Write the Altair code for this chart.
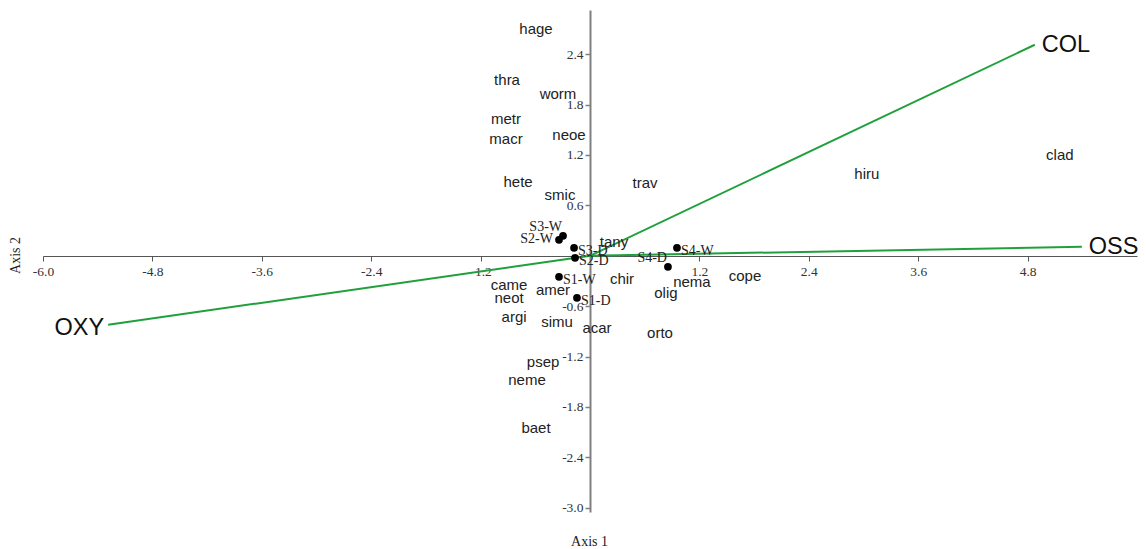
import altair as alt
import pandas as pd

# ---- data ----
site_names = ["S1-W", "S1-D", "S2-W", "S2-D", "S3-W", "S3-D", "S4-W", "S4-D"]
site_ax1 = [-0.340, -0.143, -0.340, -0.164, -0.296, -0.175, 0.954, 0.855]
site_ax2 = [-0.250, -0.500, 0.190, -0.024, 0.238, 0.095, 0.095, -0.131]

taxa_names = ["hage", "thra", "worm", "metr", "macr", "neoe", "hete", "smic", "trav",
              "hiru", "clad", "tany", "chir", "nema", "olig", "cope", "came", "neot",
              "amer", "argi", "simu", "acar", "orto", "psep", "neme", "baet"]
taxa_ax1 = [-0.592, -0.910, -0.351, -0.921, -0.921, -0.230, -0.789, -0.329, 0.603,
            3.037, 5.154, 0.263, 0.351, 1.118, 0.833, 1.700, -0.888, -0.888,
            -0.406, -0.833, -0.362, 0.077, 0.768, -0.515, -0.691, -0.592]
taxa_ax2 = [2.702, 2.095, 1.929, 1.631, 1.393, 1.440, 0.881, 0.726, 0.869,
            0.976, 1.202, 0.167, -0.274, -0.310, -0.440, -0.238, -0.345, -0.500,
            -0.405, -0.726, -0.786, -0.857, -0.917, -1.262, -1.476, -2.048]

env_names = ["COL", "OSS", "OXY"]
env_ax1 = [4.879, 5.395, -5.285]
env_ax2 = [2.512, 0.107, -0.821]

x_ticks = [-6.0, -4.8, -3.6, -2.4, -1.2, 1.2, 2.4, 3.6, 4.8]
y_ticks = [2.4, 1.8, 1.2, 0.6, -0.6, -1.2, -1.8, -2.4, -3.0]

sites = pd.DataFrame({"name": site_names, "ax1": site_ax1, "ax2": site_ax2})
taxa = pd.DataFrame({"name": taxa_names, "ax1": taxa_ax1, "ax2": taxa_ax2})
env = pd.DataFrame({"name": env_names, "ax1": env_ax1, "ax2": env_ax2,
                    "o1": [0.0] * len(env_names), "o2": [0.0] * len(env_names)})

GREEN = "#1fa03c"
SERIF = "Liberation Serif"
SANS = "Liberation Sans"
LABEL_EXPR = "(datum.value < 0 ? '-' : '') + format(abs(datum.value), '.1f')"

xs = alt.Scale(domain=[-6.0, 6.0], nice=False, zero=False)
ys = alt.Scale(domain=[-3.05, 2.926], nice=False, zero=False)

x_axis = alt.Axis(values=x_ticks, labelExpr=LABEL_EXPR, orient="bottom", offset=-256, grid=False,
                  domainColor="#555555", domainWidth=1.2, tickColor="#555555", tickSize=5,
                  labelFont=SERIF, labelFontSize=13.5, labelColor="#333333", labelPadding=3,
                  labelFlush=False, labelOverlap=False,
                  title="Axis 1", titleFont=SERIF, titleFontSize=14, titleFontWeight="normal",
                  titleColor="#222222", titleX=546, titleY=285, titleAlign="center",
                  titleBaseline="middle")
y_axis = alt.Axis(values=y_ticks, labelExpr=LABEL_EXPR, orient="left", offset=-547, grid=False,
                  domainColor="#808080", domainWidth=2, tickColor="#808080", tickWidth=1.5,
                  tickSize=5, labelFont=SERIF, labelFontSize=13.5, labelColor="#333333",
                  labelPadding=2, labelFlush=False, labelOverlap=False,
                  title="Axis 2", titleFont=SERIF, titleFontSize=14, titleFontWeight="normal",
                  titleColor="#222222", titleX=-575, titleY=245, titleAngle=-90,
                  titleAlign="center", titleBaseline="middle")

X = alt.X("ax1:Q", scale=xs, axis=x_axis)
Y = alt.Y("ax2:Q", scale=ys, axis=y_axis)

rules = alt.Chart(env).mark_rule(color=GREEN, strokeWidth=2).encode(
    x=X, y=Y, x2="o1:Q", y2="o2:Q")

env_right = alt.Chart(env).transform_filter(
    alt.FieldOneOfPredicate(field="name", oneOf=["COL", "OSS"])
).mark_text(font=SANS, fontSize=23.5, color="#111111", align="left", baseline="middle", dx=7).encode(
    x=X, y=Y, text="name:N")
env_left = alt.Chart(env).transform_filter(
    alt.FieldOneOfPredicate(field="name", oneOf=["OXY"])
).mark_text(font=SANS, fontSize=23.5, color="#111111", align="right", baseline="middle", dx=-4, dy=3).encode(
    x=X, y=Y, text="name:N")

taxa_text = alt.Chart(taxa).mark_text(font=SANS, fontSize=15, color="#222222",
                                      align="center", baseline="middle").encode(
    x=X, y=Y, text="name:N")

dots = alt.Chart(sites).mark_circle(size=60, color="black", opacity=1).encode(x=X, y=Y)

site_r = alt.Chart(sites).transform_filter(
    alt.FieldOneOfPredicate(field="name", oneOf=["S1-W", "S1-D", "S2-D", "S3-D", "S4-W"])
).mark_text(font=SERIF, fontSize=14, color="#222222", align="left", baseline="middle",
            dx=4, dy=3).encode(x=X, y=Y, text="name:N")
site_lu = alt.Chart(sites).transform_filter(
    alt.FieldOneOfPredicate(field="name", oneOf=["S3-W", "S4-D"])
).mark_text(font=SERIF, fontSize=14, color="#222222", align="right", baseline="middle",
            dx=-1, dy=-9).encode(x=X, y=Y, text="name:N")
site_l = alt.Chart(sites).transform_filter(
    alt.FieldOneOfPredicate(field="name", oneOf=["S2-W"])
).mark_text(font=SERIF, fontSize=14, color="#222222", align="right", baseline="middle",
            dx=-6, dy=-1).encode(x=X, y=Y, text="name:N")

chart = alt.layer(rules, env_right, env_left, taxa_text, dots, site_r, site_lu, site_l).properties(
    width=1094, height=502,
    autosize=alt.AutoSizeParams(type="none"),
    padding={"left": 35, "top": 2, "right": 1, "bottom": 35},
).configure_view(stroke=None).configure_axis(grid=False)

chart.save("out.html", embed_options={"renderer": "svg", "actions": False})
